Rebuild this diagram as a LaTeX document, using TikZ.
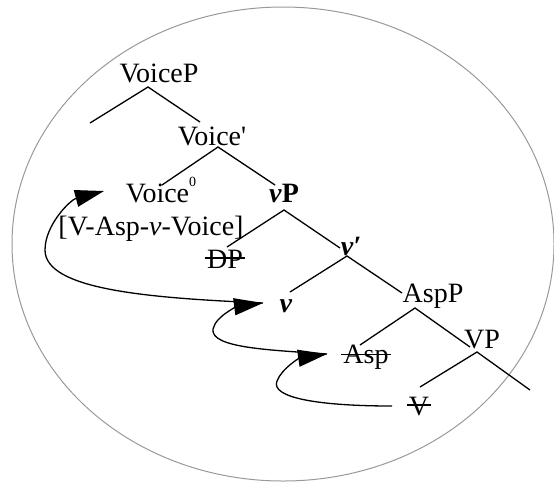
\documentclass[tikz,border=0pt]{standalone}
\usepackage{fontspec}
\setmainfont{Liberation Serif}
\usetikzlibrary{arrows.meta}
\begin{document}
\begin{tikzpicture}[x=1pt,y=-1pt,
  lbl/.style={anchor=base,inner sep=0pt,font=\fontsize{28}{32}\selectfont},
  branch/.style={line width=1.3pt},
  mov/.style={line width=1.3pt,-{Triangle[length=29pt,width=17pt]}},
  strk/.style={line width=1.2pt}]
\useasboundingbox (0,0) rectangle (554,483);
\draw[black!40, line width=1pt] (283,244) ellipse [x radius=271, y radius=237];

% labels
\node[lbl] (VoiceP) at (159,82) {VoiceP};
\node[lbl] (Voicebar) at (212,145) {Voice\textquotesingle};
\node[lbl] (Voicezero) at (161,202) {Voice\raisebox{0.55em}{\fontsize{14}{14}\selectfont 0}};
\node[lbl] (vP) at (284,202) {\textbf{\textit{ν}P}};
\node[lbl] (complex) at (151,235) {[V-Asp-\textit{ν}-Voice]};
\node[lbl] (DP) at (225,268) {DP};
\node[lbl] (vbar) at (351,255) {\textbf{\textit{ν′}}};
\node[lbl] (v) at (286,312) {\textbf{\textit{ν}}};
\node[lbl] (AspP) at (433,302) {AspP};
\node[lbl] (Asp) at (366,363) {Asp};
\node[lbl] (VP) at (482,348) {VP};
\node[lbl] (V) at (419,415) {V};

% branch points
\coordinate (VoicePa) at (148,87);  \coordinate (VoicePl) at (90,123);  \coordinate (VoicePr) at (200,122);
\coordinate (Voicebara) at (218,147); \coordinate (Voicebarl) at (162,185); \coordinate (Voicebarr) at (275,185);
\coordinate (vPa) at (284,210); \coordinate (vPl) at (227,247); \coordinate (vPr) at (340,248);
\coordinate (vbara) at (347,256); \coordinate (vbarl) at (290,292); \coordinate (vbarr) at (402,293);
\coordinate (AspPa) at (415,308); \coordinate (AspPl) at (360,345); \coordinate (AspPr) at (470,347);
\coordinate (VPa) at (477,352); \coordinate (VPl) at (420,387); \coordinate (VPr) at (530,390);

\draw[branch] (VoicePl) -- (VoicePa) -- (VoicePr);
\draw[branch] (Voicebarl) -- (Voicebara) -- (Voicebarr);
\draw[branch] (vPl) -- (vPa) -- (vPr);
\draw[branch] (vbarl) -- (vbara) -- (vbarr);
\draw[branch] (AspPl) -- (AspPa) -- (AspPr);
\draw[branch] (VPl) -- (VPa) -- (VPr);

% strike-throughs
\draw[strk] ([xshift=-2pt,yshift=10pt]DP.base west) -- ([xshift=2pt,yshift=10pt]DP.base east);
\draw[strk] ([xshift=-2pt,yshift=8.5pt]Asp.base west) -- ([xshift=2pt,yshift=8.5pt]Asp.base east);
\draw[strk] ([xshift=-2pt,yshift=10pt]V.base west) -- ([xshift=2pt,yshift=10pt]V.base east);

% movement arrows
\coordinate (m1s) at (392,406);
\coordinate (m1e) at (327,354);
\coordinate (m2e) at (263,303);
\coordinate (m3e) at (104,191);
\draw[mov] (m1s) .. controls (320,406) and (270,398) .. (277,381) .. controls (282,368) and (300,358) .. (m1e);
\draw[mov] (m1e) .. controls (270,350) and (210,348) .. (213,329) .. controls (216,315) and (240,306) .. (m2e);
\draw[mov] (m2e) .. controls (150,298) and (45,290) .. (45,250) .. controls (45,225) and (70,200) .. (m3e);
\end{tikzpicture}
\end{document}
